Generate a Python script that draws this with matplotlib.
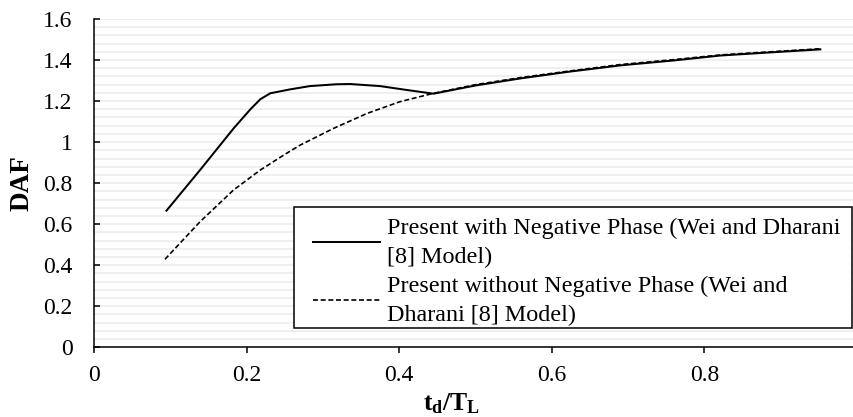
import matplotlib
matplotlib.use("Agg")
import matplotlib.pyplot as plt
from matplotlib.legend_handler import HandlerLine2D
from matplotlib.patches import Rectangle
import numpy as np

# Data
x_with = [0.095, 0.139, 0.183, 0.205, 0.218, 0.231, 0.257, 0.283, 0.318, 0.336,
          0.375, 0.410, 0.445, 0.500, 0.560, 0.620, 0.690, 0.760, 0.821, 0.890, 0.952]
y_with = [0.666, 0.864, 1.067, 1.160, 1.209, 1.238, 1.257, 1.273, 1.282, 1.283,
          1.273, 1.254, 1.236, 1.276, 1.311, 1.342, 1.374, 1.398, 1.422, 1.438, 1.452]

x_without = [0.093, 0.139, 0.183, 0.218, 0.250, 0.270, 0.314, 0.358, 0.401, 0.445,
             0.500, 0.560, 0.620, 0.690, 0.760, 0.821, 0.890, 0.952]
y_without = [0.429, 0.612, 0.767, 0.864, 0.940, 0.985, 1.067, 1.140, 1.197, 1.238,
             1.280, 1.315, 1.345, 1.378, 1.402, 1.425, 1.441, 1.455]

label_with = "Present with Negative Phase (Wei and Dharani\n[8] Model)"
label_without = "Present without Negative Phase (Wei and\nDharani [8] Model)"

x_ticks = [0, 0.2, 0.4, 0.6, 0.8, 1]
x_ticklabels = ["0", "0.2", "0.4", "0.6", "0.8", "1"]
y_ticks = [0, 0.2, 0.4, 0.6, 0.8, 1.0, 1.2, 1.4, 1.6]
y_ticklabels = ["0", "0.2", "0.4", "0.6", "0.8", "1", "1.2", "1.4", "1.6"]
grid_levels = np.arange(0, 1.6001, 0.04)

plt.rcParams['font.family'] = ['Liberation Serif', 'DejaVu Serif']
plt.rcParams['mathtext.fontset'] = 'custom'
plt.rcParams['mathtext.rm'] = 'Liberation Serif'
plt.rcParams['mathtext.bf'] = 'Liberation Serif:bold'
plt.rcParams['mathtext.it'] = 'Liberation Serif:italic'

W, H = 854, 417
fig = plt.figure(figsize=(W / 100, H / 100), dpi=100)
ax_l, ax_r, ax_t, ax_b = 94, 857, 19, 347.3
ax = fig.add_axes([ax_l / W, 1 - ax_b / H, (ax_r - ax_l) / W, (ax_b - ax_t) / H])

for g in grid_levels:
    ax.axhline(g, color='#ececec', lw=1.2, zorder=0)

l1, = ax.plot(x_with, y_with, color='black', lw=1.45, label=label_with, zorder=3)
l2, = ax.plot(x_without, y_without, color='black', lw=1.2, dashes=(3.0, 1.6),
              label=label_without, zorder=4)

ax.set_xlim(0, 1)
ax.set_ylim(0, 1.6)
ax.set_xticks(x_ticks)
ax.set_xticklabels(x_ticklabels)
ax.set_yticks(y_ticks)
ax.set_yticklabels(y_ticklabels)

for s in ['top', 'right']:
    ax.spines[s].set_visible(False)
for s in ['left', 'bottom']:
    ax.spines[s].set_linewidth(1.1)
    ax.spines[s].set_color('black')

ax.tick_params(axis='x', direction='out', length=4.5, width=1.1, pad=8.5, labelsize=17)
ax.tick_params(axis='y', direction='in', length=4.5, width=1.1, pad=15.5, labelsize=17)

fig.text(22 / W, 1 - 183 / H, 'DAF', rotation=90, ha='center', va='center',
         fontsize=19.5, fontweight='bold')
fig.text(452 / W, 1 - 404 / H, r'$\mathbf{t_d/T_L}$', ha='center', va='center',
         fontsize=18.5)

# legend frame drawn as a rectangle
axh = ax_b - ax_t
axw = ax_r - ax_l
box = Rectangle(((294 - ax_l) / axw, (ax_b - 328.3) / axh),
                (852 - 294) / axw, (328.3 - 206.7) / axh,
                transform=ax.transAxes, facecolor='white', edgecolor='black',
                lw=1.1, zorder=5)
ax.add_patch(box)

fs = 17.4
x0 = (294 - ax_l) / axw
y0 = (ax_b - 330.8) / axh
w = (852 - 294) / axw
hm = {l1: HandlerLine2D(xpad=0.58), l2: HandlerLine2D(xpad=0.58)}
leg = ax.legend(loc='lower left', bbox_to_anchor=(x0, y0, w, 0.2), mode='expand',
                borderaxespad=0, fontsize=fs, frameon=False,
                handlelength=3.36, handletextpad=0.29, borderpad=0.2,
                labelspacing=0.32, handler_map=hm)
leg.set_zorder(6)
for t in leg.get_texts():
    t.set_linespacing(1.5)

fig.savefig('out.png', dpi=100)
